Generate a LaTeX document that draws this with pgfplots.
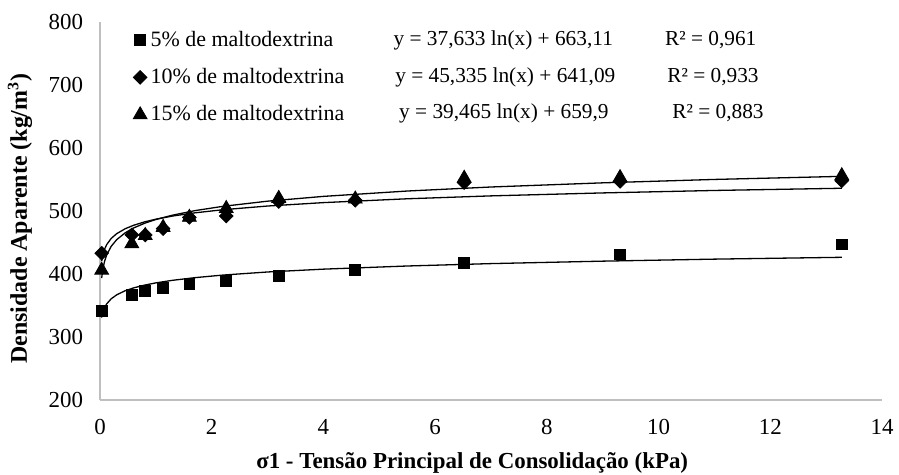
\documentclass[border=0pt]{standalone}
\usepackage{pgfplots}
\pgfplotsset{compat=1.18}
\usepackage{fontspec}
\setmainfont{Liberation Serif}
\begin{document}
\fontsize{10}{12}\selectfont
\begin{tikzpicture}
\useasboundingbox (-50bp,-37.5bp) rectangle (399.5bp,200bp);
\begin{axis}[
  at={(0,0)}, anchor=south west,
  scale only axis, width=391bp, height=189bp,
  xmin=0, xmax=14, ymin=200, ymax=800,
  xtick={0,2,...,14}, ytick={200,300,...,800},
  axis lines=left, axis line style={draw=black!25, line width=0.6bp, -},
  major tick length=0pt, tick style={draw=none},
  /pgf/number format/assume math mode=true,
  ticklabel style={font=\fontsize{11.5}{13}\selectfont},
  xticklabel style={yshift=-6bp},
  yticklabel style={xshift=-5bp},
  xlabel={\textbf{σ1 - Tensão Principal de Consolidação (kPa)}},
  ylabel={\textbf{Densidade Aparente (kg/m\textsuperscript{3})}},
  xlabel style={at={(axis description cs:0.476,-0.167)}, anchor=center, font=\fontsize{11.5}{13}\selectfont},
  ylabel style={at={(axis description cs:-0.1023,0.48)}, anchor=center, font=\fontsize{12}{14}\selectfont},
  legend style={at={(rel axis cs:0.042,0.987)}, anchor=north west, draw=none, fill=none,
    font=\fontsize{11}{12}\selectfont, inner sep=0pt, row sep=6bp,
    nodes={inner sep=1.8bp}},
  legend cell align=left,
  clip=false,
]
% data
\addplot[only marks, mark=square*, mark size=2.7bp, color=black] coordinates {
(0.03,342) (0.57,367) (0.81,373) (1.13,378) (1.60,384) (2.26,389) (3.20,397) (4.57,406) (6.52,417) (9.31,431) (13.28,447)};
\addlegendentry{5\% de maltodextrina}
\addplot[only marks, mark=square*, mark size=2.4bp, mark options={rotate=45}, color=black] coordinates {
(0.03,433) (0.57,462) (0.81,462) (1.13,472) (1.60,490) (2.26,492) (3.20,515) (4.57,517) (6.52,545) (9.31,547) (13.28,548)};
\addlegendentry{10\% de maltodextrina}
\addplot[only marks, mark=triangle*, mark size=4bp, color=black] coordinates {
(0.03,406) (0.57,448) (0.81,461) (1.13,474) (1.60,490) (2.26,504) (3.20,520) (4.57,519) (6.52,552) (9.31,553) (13.28,556)};
\addlegendentry{15\% de maltodextrina}
% trend lines
\addplot[black, line width=0.65bp, forget plot] coordinates {
(0.03,330.8) (0.05,338.9) (0.08,346.2) (0.12,352.6) (0.2,360.6) (0.3,367.0) (0.45,373.4) (0.6,377.9) (0.8,382.4) (1.0,385.9) (1.3,390.0) (1.7,394.2) (2.2,398.3) (3,403.2) (4,407.7) (5.5,412.7) (7,416.5) (9,420.4) (11,423.6) (13.28,426.5)};
\addplot[black, line width=0.65bp, forget plot] coordinates {
(0.03,420.4) (0.05,430.1) (0.08,439.0) (0.12,446.7) (0.2,456.4) (0.3,464.1) (0.45,471.8) (0.6,477.3) (0.8,482.8) (1.0,487.0) (1.3,492.0) (1.7,497.1) (2.2,502.0) (3,507.9) (4,513.3) (5.5,519.4) (7,524.0) (9,528.7) (11,532.6) (13.28,536.1)};
\addplot[black, line width=0.65bp, forget plot] coordinates {
(0.03,393.6) (0.05,407.1) (0.08,419.6) (0.12,430.3) (0.2,443.9) (0.3,454.6) (0.45,465.3) (0.6,473.0) (0.8,480.6) (1.0,486.5) (1.3,493.4) (1.7,500.6) (2.2,507.4) (3,515.6) (4,523.2) (5.5,531.7) (7,538.1) (9,544.7) (11,550.1) (13.28,555.0)};
% equations
\node[anchor=west, font=\fontsize{10.7}{12}\selectfont, inner sep=0pt] at (axis cs:5.25,771) {y = 37,633 ln(x) + 663,11};
\node[anchor=west, font=\fontsize{10.7}{12}\selectfont, inner sep=0pt] at (axis cs:5.28,712) {y = 45,335 ln(x) + 641,09};
\node[anchor=west, font=\fontsize{10.7}{12}\selectfont, inner sep=0pt] at (axis cs:5.35,655) {y = 39,465 ln(x) + 659,9};
\node[anchor=west, font=\fontsize{10.7}{12}\selectfont, inner sep=0pt] at (axis cs:10.11,771) {R² = 0,961};
\node[anchor=west, font=\fontsize{10.7}{12}\selectfont, inner sep=0pt] at (axis cs:10.15,712) {R² = 0,933};
\node[anchor=west, font=\fontsize{10.7}{12}\selectfont, inner sep=0pt] at (axis cs:10.24,655) {R² = 0,883};
\end{axis}
\end{tikzpicture}
\end{document}
